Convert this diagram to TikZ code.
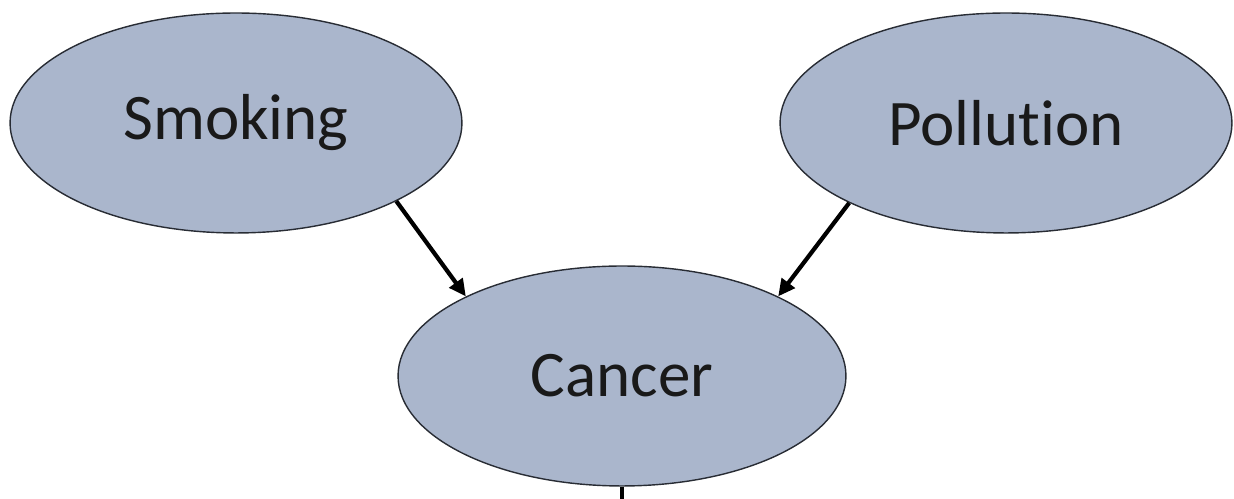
\documentclass[tikz,border=0pt]{standalone}
\usepackage{fontspec}
\setmainfont{Carlito}[Ligatures=NoCommon]
\usetikzlibrary{arrows.meta,shapes.geometric}
\definecolor{nodefill}{RGB}{170,182,204}
\definecolor{nodeline}{RGB}{40,44,52}
\tikzset{
  var/.style={ellipse, draw=nodeline, line width=0.8pt, fill=nodefill, inner sep=0pt,
    minimum width=9.04cm, minimum height=4.4cm, text=black!90,
    font=\fontsize{37}{44}\selectfont},
  lnk/.style={-{Triangle[length=3.4mm,width=3.2mm]}, line width=2.4pt, black},
}
\begin{document}
\begin{tikzpicture}[x=0.02cm,y=0.02cm]
  \useasboundingbox (0,0) rectangle (1234,499);
  % variables
  \node[var] (smoking) at (236,376) {Smoking};
  \node[var] (pollution) at (1006,376) {Pollution};
  \node[var, minimum width=8.96cm] (cancer) at (622,123) {Cancer};
  % links
  \draw[lnk] (smoking.-26) -- (cancer.153);
  \draw[lnk] (pollution.-153) -- (cancer.27);
  \coordinate (below) at (622,-2);
  \draw[line width=2.4pt] (cancer.south) -- (below);
\end{tikzpicture}
\end{document}
